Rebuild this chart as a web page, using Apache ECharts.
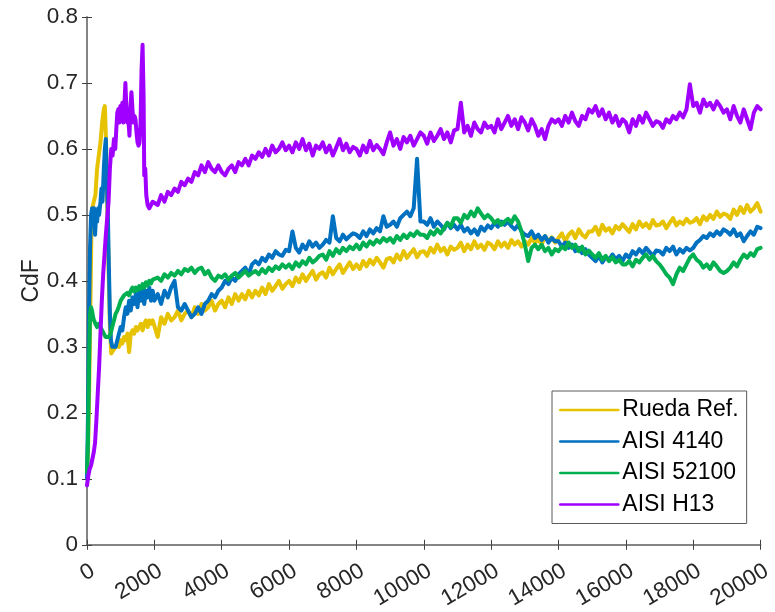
<!DOCTYPE html>
<html>
<head>
<meta charset="utf-8">
<script src="https://cdn.jsdelivr.net/npm/echarts@6/dist/echarts.min.js"></script>
<style>
  html, body { margin: 0; padding: 0; background: #fff; }
  #chart { width: 775px; height: 612px; }
</style>
</head>
<body>
<div id="chart"></div>
<script>
// Tick values and axis range
const xTicks = [0, 2000, 4000, 6000, 8000, 10000, 12000, 14000, 16000, 18000, 20000];
const yTicks = [0, 0.1, 0.2, 0.3, 0.4, 0.5, 0.6, 0.7, 0.8];
const seriesNames = ['Rueda Ref.', 'AISI 4140', 'AISI 52100', 'AISI H13'];
const seriesColors = ['#E6C200', '#0070C0', '#00B050', '#A000FF'];

// Run-in segment (first 2000 units), sampled where the curves change fast
const ruedaEarlyX = [0, 30, 60, 100, 130, 160, 200, 250, 300, 350, 400, 450, 500, 530, 560, 600, 640, 680, 720, 780, 850, 900, 950, 1000, 1050, 1100, 1150, 1200, 1250, 1300, 1350, 1400, 1450, 1500, 1550, 1600, 1650, 1700, 1750, 1800, 1850, 1900, 1950];
const ruedaEarlyY = [0.11, 0.14, 0.22, 0.36, 0.47, 0.51, 0.52, 0.53, 0.57, 0.57, 0.61, 0.64, 0.66, 0.665, 0.62, 0.52, 0.42, 0.33, 0.29, 0.295, 0.30, 0.305, 0.30, 0.31, 0.305, 0.315, 0.31, 0.32, 0.292, 0.32, 0.325, 0.32, 0.33, 0.325, 0.33, 0.335, 0.325, 0.335, 0.34, 0.33, 0.34, 0.335, 0.34];

const a4140EarlyX = [0, 30, 60, 90, 120, 150, 180, 210, 240, 270, 300, 330, 360, 400, 430, 460, 500, 530, 560, 590, 620, 650, 680, 710, 750, 800, 850, 900, 950, 1000, 1050, 1100, 1150, 1200, 1250, 1300, 1350, 1400, 1450, 1500, 1550, 1600, 1650, 1700, 1750, 1800, 1850, 1900, 1950];
const a4140EarlyY = [0.10, 0.20, 0.35, 0.45, 0.50, 0.51, 0.49, 0.51, 0.47, 0.50, 0.49, 0.51, 0.50, 0.52, 0.54, 0.52, 0.57, 0.60, 0.615, 0.55, 0.50, 0.42, 0.35, 0.31, 0.30, 0.298, 0.30, 0.31, 0.32, 0.33, 0.325, 0.345, 0.36, 0.35, 0.37, 0.355, 0.375, 0.365, 0.38, 0.36, 0.385, 0.37, 0.39, 0.365, 0.385, 0.375, 0.39, 0.37, 0.385];

const a52100EarlyX = [0, 30, 60, 90, 120, 150, 180, 210, 250, 300, 350, 400, 450, 500, 550, 600, 650, 700, 750, 800, 850, 900, 950, 1000, 1050, 1100, 1150, 1200, 1250, 1300, 1350, 1400, 1450, 1500, 1550, 1600, 1650, 1700, 1750, 1800, 1850, 1900, 1950];
const a52100EarlyY = [0.11, 0.16, 0.27, 0.35, 0.36, 0.355, 0.345, 0.34, 0.335, 0.33, 0.335, 0.33, 0.325, 0.32, 0.315, 0.312, 0.315, 0.32, 0.33, 0.34, 0.35, 0.355, 0.362, 0.37, 0.372, 0.378, 0.375, 0.382, 0.378, 0.385, 0.39, 0.384, 0.39, 0.386, 0.392, 0.388, 0.395, 0.39, 0.398, 0.393, 0.4, 0.396, 0.402];

const h13EarlyX = [0, 40, 80, 120, 160, 200, 240, 280, 320, 360, 400, 440, 480, 520, 560, 600, 640, 680, 720, 760, 800, 840, 870, 900, 930, 960, 990, 1020, 1050, 1080, 1110, 1140, 1170, 1200, 1230, 1260, 1290, 1320, 1350, 1380, 1410, 1440, 1470, 1500, 1530, 1560, 1590, 1620, 1650, 1680, 1700, 1730, 1760, 1800, 1850, 1900, 1950];
const h13EarlyY = [0.09, 0.105, 0.115, 0.12, 0.13, 0.14, 0.155, 0.19, 0.23, 0.27, 0.32, 0.37, 0.41, 0.44, 0.47, 0.495, 0.52, 0.57, 0.60, 0.59, 0.615, 0.60, 0.63, 0.655, 0.66, 0.64, 0.665, 0.655, 0.67, 0.64, 0.665, 0.70, 0.66, 0.64, 0.645, 0.62, 0.665, 0.686, 0.66, 0.64, 0.65, 0.645, 0.625, 0.61, 0.605, 0.61, 0.64, 0.72, 0.758, 0.68, 0.56, 0.57, 0.53, 0.515, 0.51, 0.515, 0.52];

// Steady segment: one value every 100 units from 2000 to 20000
const lateStart = 2000;
const lateStep = 100;

const ruedaLate = [
  0.34, 0.315, 0.345, 0.335, 0.35, 0.34, 0.345, 0.355, 0.34, 0.35,
  0.355, 0.345, 0.36, 0.35, 0.365, 0.355, 0.36, 0.37, 0.355, 0.365,
  0.37, 0.36, 0.375, 0.365, 0.38, 0.37, 0.38, 0.372, 0.385, 0.375,
  0.385, 0.378, 0.39, 0.38, 0.395, 0.385, 0.392, 0.40, 0.388, 0.395,
  0.40, 0.392, 0.405, 0.398, 0.41, 0.40, 0.408, 0.415, 0.402, 0.41,
  0.413, 0.405, 0.42, 0.41, 0.418, 0.425, 0.412, 0.42, 0.428, 0.418,
  0.425, 0.418, 0.43, 0.422, 0.432, 0.425, 0.435, 0.428, 0.42, 0.433,
  0.435, 0.428, 0.44, 0.432, 0.445, 0.435, 0.442, 0.448, 0.436, 0.444,
  0.445, 0.438, 0.45, 0.443, 0.455, 0.445, 0.45, 0.44, 0.452, 0.447,
  0.45, 0.458, 0.445, 0.455, 0.448, 0.46, 0.45, 0.455, 0.447, 0.458,
  0.455, 0.448, 0.46, 0.452, 0.458, 0.45, 0.462, 0.455, 0.46, 0.452,
  0.46, 0.455, 0.465, 0.458, 0.463, 0.455, 0.468, 0.46, 0.466, 0.458,
  0.465, 0.472, 0.46, 0.47, 0.475, 0.465, 0.478, 0.47, 0.466, 0.475,
  0.475, 0.482, 0.47, 0.485, 0.476, 0.48, 0.472, 0.483, 0.478, 0.486,
  0.48, 0.474, 0.486, 0.478, 0.49, 0.482, 0.487, 0.48, 0.492, 0.484,
  0.485, 0.49, 0.48, 0.488, 0.495, 0.484, 0.49, 0.486, 0.494, 0.488,
  0.49, 0.495, 0.486, 0.498, 0.492, 0.50, 0.494, 0.505, 0.497, 0.502,
  0.50, 0.494, 0.508, 0.50, 0.512, 0.503, 0.515, 0.505, 0.51, 0.518,
  0.505
];

const a4140Late = [
  0.37, 0.38, 0.365, 0.385, 0.375, 0.39, 0.40, 0.36, 0.355, 0.365,
  0.355, 0.345, 0.35, 0.36, 0.35, 0.365, 0.37, 0.38, 0.375, 0.385,
  0.39, 0.40, 0.395, 0.405, 0.40, 0.41, 0.415, 0.42, 0.41, 0.425,
  0.43, 0.425, 0.435, 0.43, 0.44, 0.435, 0.445, 0.44, 0.438, 0.447,
  0.445, 0.475, 0.45, 0.443, 0.455, 0.448, 0.46, 0.452, 0.458, 0.45,
  0.455, 0.462, 0.458, 0.498, 0.465, 0.46, 0.47, 0.463, 0.468, 0.472,
  0.47, 0.465, 0.475, 0.468, 0.478, 0.472, 0.48, 0.475, 0.498, 0.482,
  0.485, 0.49, 0.482, 0.495, 0.50, 0.505, 0.498, 0.51, 0.585, 0.49,
  0.49, 0.485, 0.495, 0.482, 0.49, 0.485, 0.478, 0.488, 0.48, 0.485,
  0.478, 0.485, 0.475, 0.48, 0.472, 0.478, 0.47, 0.482, 0.476, 0.484,
  0.48, 0.488, 0.482, 0.49, 0.485, 0.49, 0.483, 0.478, 0.485, 0.475,
  0.47, 0.468, 0.475, 0.465, 0.47, 0.462, 0.468, 0.458, 0.465, 0.46,
  0.46, 0.452, 0.458, 0.45, 0.455, 0.445, 0.45, 0.442, 0.448, 0.44,
  0.435, 0.43, 0.438, 0.428, 0.436, 0.432, 0.44, 0.433, 0.438, 0.43,
  0.44, 0.435, 0.445, 0.44, 0.448, 0.442, 0.45, 0.444, 0.438, 0.446,
  0.445, 0.44, 0.45, 0.445, 0.452, 0.44, 0.448, 0.443, 0.45, 0.446,
  0.45, 0.458, 0.462, 0.468, 0.465, 0.472, 0.468, 0.475, 0.47, 0.478,
  0.475, 0.47, 0.478, 0.468, 0.472, 0.46, 0.468, 0.475, 0.47, 0.482,
  0.48
];

const a52100Late = [
  0.40, 0.405, 0.40, 0.41, 0.405, 0.412, 0.408, 0.415, 0.41, 0.418,
  0.415, 0.42, 0.412, 0.418, 0.42, 0.41, 0.415, 0.405, 0.40, 0.408,
  0.405, 0.41, 0.402, 0.408, 0.412, 0.405, 0.41, 0.415, 0.408, 0.412,
  0.415, 0.41, 0.418, 0.412, 0.42, 0.415, 0.422, 0.418, 0.425, 0.42,
  0.425, 0.418, 0.428, 0.422, 0.43, 0.425, 0.435, 0.428, 0.432, 0.438,
  0.44, 0.432, 0.445, 0.438, 0.448, 0.442, 0.45, 0.445, 0.452, 0.448,
  0.455, 0.448, 0.458, 0.452, 0.46, 0.455, 0.462, 0.458, 0.465, 0.46,
  0.465, 0.458, 0.468, 0.462, 0.47, 0.465, 0.472, 0.468, 0.475, 0.47,
  0.47, 0.465, 0.475, 0.47, 0.478, 0.472, 0.48, 0.488, 0.482, 0.495,
  0.495, 0.488, 0.50, 0.495, 0.505, 0.498, 0.51, 0.502, 0.495, 0.50,
  0.495, 0.488, 0.492, 0.485, 0.49, 0.494, 0.488, 0.498, 0.49, 0.475,
  0.455, 0.43, 0.45, 0.455, 0.448, 0.455, 0.445, 0.45, 0.44, 0.448,
  0.445, 0.452, 0.448, 0.458, 0.45, 0.455, 0.445, 0.452, 0.44, 0.446,
  0.44, 0.435, 0.442, 0.432, 0.438, 0.43, 0.436, 0.428, 0.432, 0.425,
  0.425, 0.43, 0.422, 0.432, 0.428, 0.435, 0.44, 0.432, 0.438, 0.43,
  0.425, 0.418, 0.41, 0.405, 0.395, 0.41, 0.42, 0.415, 0.425, 0.435,
  0.44, 0.432, 0.428, 0.42, 0.425, 0.418, 0.428, 0.422, 0.415, 0.412,
  0.415, 0.42, 0.428, 0.422, 0.432, 0.44, 0.435, 0.442, 0.438, 0.448,
  0.45
];

const h13Late = [
  0.52, 0.515, 0.53, 0.52, 0.535, 0.53, 0.54, 0.535, 0.55, 0.545,
  0.555, 0.55, 0.565, 0.56, 0.575, 0.565, 0.58, 0.57, 0.565, 0.575,
  0.565, 0.56, 0.57, 0.575, 0.565, 0.58, 0.575, 0.585, 0.575, 0.59,
  0.585, 0.595, 0.588, 0.60, 0.59, 0.605, 0.595, 0.60, 0.61, 0.598,
  0.605, 0.595, 0.61, 0.60, 0.615, 0.598, 0.608, 0.59, 0.605, 0.60,
  0.61, 0.595, 0.605, 0.59, 0.602, 0.615, 0.598, 0.608, 0.595, 0.603,
  0.60, 0.59, 0.605, 0.595, 0.612, 0.598, 0.606, 0.60, 0.592, 0.61,
  0.625, 0.605, 0.615, 0.60, 0.618, 0.61, 0.62, 0.605, 0.615, 0.625,
  0.62, 0.608, 0.625, 0.612, 0.62, 0.63, 0.615, 0.625, 0.61, 0.628,
  0.63, 0.67, 0.625, 0.635, 0.62, 0.64, 0.63, 0.625, 0.64, 0.632,
  0.635, 0.625, 0.645, 0.63, 0.64, 0.65, 0.635, 0.645, 0.63, 0.648,
  0.64, 0.628, 0.645, 0.635, 0.62, 0.63, 0.615, 0.635, 0.645, 0.64,
  0.645, 0.635, 0.65, 0.64, 0.655, 0.642, 0.635, 0.65, 0.645, 0.66,
  0.655, 0.665, 0.65, 0.66, 0.645, 0.655, 0.64, 0.65, 0.635, 0.645,
  0.64, 0.625, 0.645, 0.635, 0.65, 0.64, 0.655, 0.645, 0.635, 0.642,
  0.64, 0.632, 0.645, 0.64, 0.65, 0.645, 0.655, 0.648, 0.66, 0.698,
  0.665, 0.67, 0.655, 0.675, 0.665, 0.67, 0.66, 0.672, 0.665, 0.655,
  0.66, 0.645, 0.665, 0.65, 0.64, 0.66, 0.645, 0.63, 0.655, 0.665,
  0.66
];

// Join the run-in samples with the evenly spaced steady samples
function buildPoints(earlyX, earlyY, late) {
  const pts = earlyX.map((x, i) => [x, earlyY[i]]);
  late.forEach((y, i) => pts.push([lateStart + i * lateStep, y]));
  return pts;
}

const seriesPoints = [
  buildPoints(ruedaEarlyX, ruedaEarlyY, ruedaLate),
  buildPoints(a4140EarlyX, a4140EarlyY, a4140Late),
  buildPoints(a52100EarlyX, a52100EarlyY, a52100Late),
  buildPoints(h13EarlyX, h13EarlyY, h13Late)
];

const FONT = '"Liberation Sans", Arial, Helvetica, sans-serif';
const AXIS_COLOR = '#7d7d7d';
const TEXT_COLOR = '#262626';
const TICK_FONT_SIZE = 22.5;

const chart = echarts.init(document.getElementById('chart'), null, { renderer: 'canvas' });

const boxAxis = {
  axisLine: { show: true, lineStyle: { color: AXIS_COLOR, width: 1.5 } },
  axisTick: { show: true, inside: true, length: 5, lineStyle: { color: '#404040', width: 1 } },
  splitLine: { show: false }
};

chart.setOption({
  animation: false,
  backgroundColor: '#ffffff',
  textStyle: { fontFamily: FONT },
  grid: { left: 87, right: 12, top: 17, bottom: 63, containLabel: false },
  legend: {
    data: seriesNames,
    left: 552,
    top: 391,
    orient: 'vertical',
    backgroundColor: '#ffffff',
    borderColor: '#5a5a5a',
    borderWidth: 1,
    padding: [6, 8, 6, 7],
    itemWidth: 58,
    itemHeight: 12,
    itemGap: 5.5,
    itemStyle: { opacity: 0 },
    lineStyle: { width: 2.6 },
    textStyle: { fontFamily: FONT, fontSize: 23, color: '#000000', lineHeight: 26, padding: [0, 0, 0, -1] },
    selectedMode: false
  },
  xAxis: [
    Object.assign({
      type: 'value',
      min: xTicks[0],
      max: xTicks[xTicks.length - 1],
      interval: xTicks[1] - xTicks[0],
      position: 'bottom',
      axisLabel: {
        show: true,
        rotate: 30,
        margin: 28,
        fontSize: TICK_FONT_SIZE,
        fontFamily: FONT,
        color: TEXT_COLOR,
        padding: [0, -7, 0, 0],
        showMaxLabel: true,
        showMinLabel: true,
        formatter: v => String(v)
      }
    }, boxAxis),
    Object.assign({
      type: 'value',
      min: xTicks[0],
      max: xTicks[xTicks.length - 1],
      interval: xTicks[1] - xTicks[0],
      position: 'top',
      axisLabel: { show: false }
    }, boxAxis)
  ],
  yAxis: [
    Object.assign({
      type: 'value',
      min: yTicks[0],
      max: yTicks[yTicks.length - 1],
      interval: 0.1,
      position: 'left',
      name: 'CdF',
      nameLocation: 'middle',
      nameGap: 44,
      nameMoveOverlap: false,
      nameTextStyle: { fontSize: 23, fontFamily: FONT, color: TEXT_COLOR },
      axisLabel: {
        margin: 9,
        fontSize: TICK_FONT_SIZE,
        fontFamily: FONT,
        color: TEXT_COLOR,
        formatter: v => (v === 0 ? '0' : v.toFixed(1))
      }
    }, boxAxis),
    Object.assign({
      type: 'value',
      min: yTicks[0],
      max: yTicks[yTicks.length - 1],
      interval: 0.1,
      position: 'right',
      axisLabel: { show: false }
    }, boxAxis)
  ],
  series: seriesNames.map((name, i) => ({
    name: name,
    type: 'line',
    xAxisIndex: 0,
    yAxisIndex: 0,
    data: seriesPoints[i],
    showSymbol: false,
    symbol: 'none',
    clip: true,
    color: seriesColors[i],
    lineStyle: { color: seriesColors[i], width: 4, join: 'round', cap: 'round' },
    emphasis: { disabled: true },
    z: 2 + i
  }))
});
</script>
</body>
</html>
